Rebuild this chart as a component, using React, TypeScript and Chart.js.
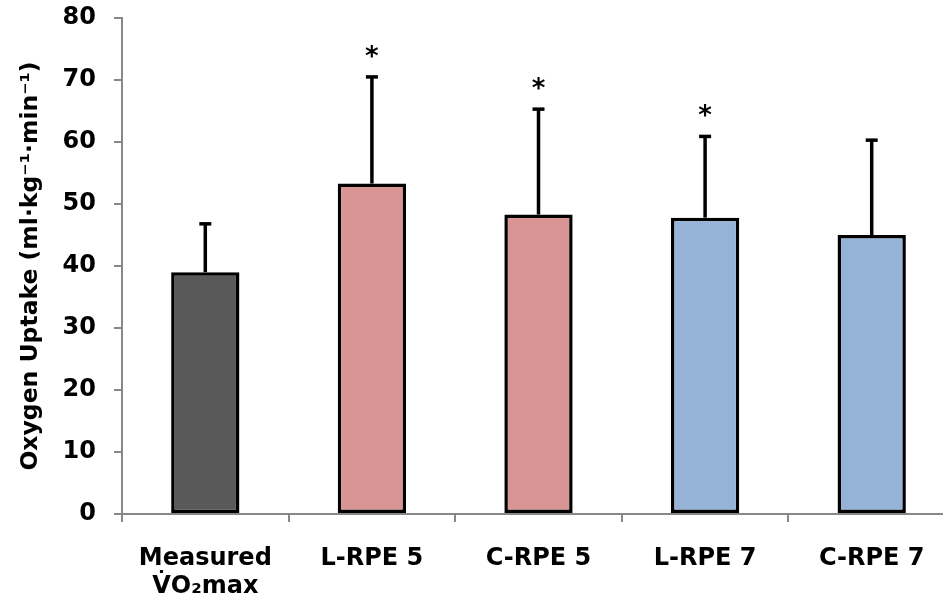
import React, { useEffect, useRef } from "react";
import { Chart, registerables } from "chart.js";

Chart.register(...registerables);

const categories: (string | string[])[] = [["Measured", "V̇O₂max"], "L-RPE 5", "C-RPE 5", "L-RPE 7", "C-RPE 7"];
const means = [39.0, 53.3, 48.3, 47.8, 45.0];
const sds = [7.8, 17.2, 17.0, 13.1, 15.3];
const significant = [false, true, true, true, false];
const barColors = ["#595959", "#D99594", "#D99594", "#95B3D7", "#95B3D7"];
const yTicks = [0, 10, 20, 30, 40, 50, 60, 70, 80];

const FONT = "'DejaVu Sans', Verdana, sans-serif";

const errorPlugin = {
  id: "errorBars",
  afterDatasetsDraw(chart: any) {
    const ctx = chart.ctx;
    const meta = chart.getDatasetMeta(0);
    const yScale = chart.scales.y;
    ctx.save();
    meta.data.forEach((bar: any, i: number) => {
      const x = bar.x;
      const yTop = yScale.getPixelForValue(means[i] + sds[i]);
      const yBase = yScale.getPixelForValue(means[i]);
      ctx.strokeStyle = "#000";
      ctx.lineWidth = 3.5;
      ctx.lineCap = "butt";
      ctx.beginPath();
      ctx.moveTo(x, yBase);
      ctx.lineTo(x, yTop);
      ctx.stroke();
      ctx.beginPath();
      ctx.moveTo(x - 6, yTop);
      ctx.lineTo(x + 6, yTop);
      ctx.stroke();
      if (significant[i]) {
        ctx.fillStyle = "#000";
        ctx.font = `bold 26px ${FONT}`;
        ctx.textAlign = "center";
        ctx.textBaseline = "middle";
        ctx.fillText("*", x, yTop - 19);
      }
    });
    ctx.restore();
  },
};

export default function App() {
  const ref = useRef<HTMLCanvasElement | null>(null);
  useEffect(() => {
    if (!ref.current) return;
    const chart = new Chart(ref.current, {
      type: "bar",
      data: {
        labels: categories,
        datasets: [
          {
            data: means,
            backgroundColor: barColors,
            borderColor: "#000",
            borderWidth: 3.5,
            borderSkipped: false,
            barPercentage: 0.41,
            categoryPercentage: 1,
          },
        ],
      },
      options: {
        responsive: false,
        animation: false,
        devicePixelRatio: 1,
        layout: { padding: { left: 0, right: 5, top: 18, bottom: 0 } },
        plugins: {
          legend: { display: false },
          tooltip: { enabled: false },
        },
        scales: {
          x: {
            grid: {
              offset: true,
              drawOnChartArea: false,
              drawTicks: true,
              tickLength: 8,
              color: "#888",
              lineWidth: 2,
            },
            border: { display: true, color: "#888", width: 2 },
            ticks: {
              color: "#000",
              font: { family: FONT, size: 24, weight: "bold", lineHeight: 1.15 },
              padding: 23,
              maxRotation: 0,
              autoSkip: false,
            },
            afterFit: (s: any) => {
              s.height = 84;
              s.paddingLeft = 0;
              s.paddingRight = 0;
            },
          },
          y: {
            min: 0,
            max: 80,
            afterBuildTicks: (s: any) => {
              s.ticks = yTicks.map((v) => ({ value: v }));
            },
            grid: {
              drawOnChartArea: false,
              drawTicks: true,
              tickLength: 8,
              color: "#888",
              lineWidth: 2,
            },
            border: { display: true, color: "#888", width: 2 },
            ticks: {
              color: "#000",
              font: { family: FONT, size: 24, weight: "bold" },
              padding: 18,
            },
            title: {
              display: true,
              text: "Oxygen Uptake (ml·kg⁻¹·min⁻¹)",
              color: "#000",
              font: { family: FONT, size: 23.5, weight: "bold", lineHeight: 1.2 },
              padding: { top: 17, bottom: 0 },
            },
            afterFit: (s: any) => {
              s.width = 122;
              s.paddingTop = 0;
              s.paddingBottom = 0;
            },
          },
        },
      },
      plugins: [errorPlugin],
    });
    return () => chart.destroy();
  }, []);
  return (
    <div style={{ position: "fixed", left: 0, top: 0, width: 943, height: 598, overflow: "hidden", background: "#fff" }}>
      <canvas ref={ref} width={960} height={598} style={{ display: "block" }} />
    </div>
  );
}
